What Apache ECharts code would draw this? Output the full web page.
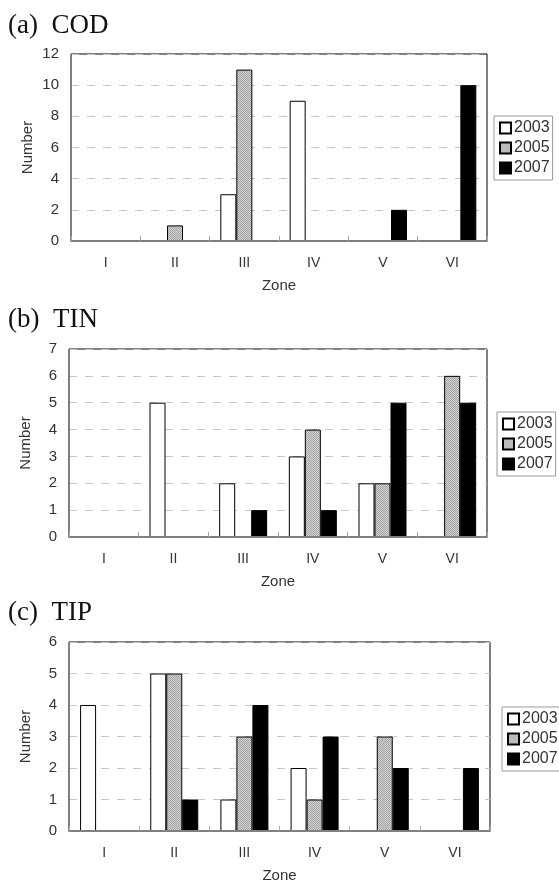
<!DOCTYPE html>
<html>
<head>
<meta charset="utf-8">
<script src="https://cdn.jsdelivr.net/npm/echarts@6/dist/echarts.min.js"></script>
<style>
  html, body { margin: 0; padding: 0; background: #fff; }
  #chart { width: 559px; height: 885px; }
</style>
</head>
<body>
<div id="chart"></div>
<script>
  // zones on the x axis
  const zones = ['I', 'II', 'III', 'IV', 'V', 'VI']
  const years = ['2003', '2005', '2007']

  // (a) COD
  const cod2003 = [0, 0, 3, 9, 0, 0]
  const cod2005 = [0, 1, 11, 0, 0, 0]
  const cod2007 = [0, 0, 0, 0, 2, 10]
  // (b) TIN
  const tin2003 = [0, 5, 2, 3, 2, 0]
  const tin2005 = [0, 0, 0, 4, 2, 6]
  const tin2007 = [0, 0, 1, 1, 5, 5]
  // (c) TIP
  const tip2003 = [4, 5, 1, 2, 0, 0]
  const tip2005 = [0, 5, 3, 1, 3, 0]
  const tip2007 = [0, 1, 4, 3, 2, 2]

  const panelTitles = ['(a)  COD', '(b)  TIN', '(c)  TIP']
  const yMax = [12, 7, 6]
  const yStep = [2, 1, 1]

  // stippled gray fill for 2005
  function stipple() {
    const c = document.createElement('canvas')
    c.width = 2
    c.height = 2
    const ctx = c.getContext('2d')
    ctx.fillStyle = '#d2d2d2'
    ctx.fillRect(0, 0, 2, 2)
    ctx.fillStyle = '#a4a4a4'
    ctx.fillRect(0, 0, 1, 1)
    ctx.fillRect(1, 1, 1, 1)
    return c
  }
  const fills = ['#ffffff', { image: stipple(), repeat: 'repeat' }, '#000000']

  const panels = [
    { data: [cod2003, cod2005, cod2007], grid: { left: 71, top: 54, right: 72, height: 187 }, titleTop: 7, legend: { left: 494, top: 116 } },
    { data: [tin2003, tin2005, tin2007], grid: { left: 69, top: 349, right: 72, height: 188 }, titleTop: 301, legend: { left: 497, top: 412 } },
    { data: [tip2003, tip2005, tip2007], grid: { left: 69, top: 642, right: 69, height: 189 }, titleTop: 594, legend: { left: 502, top: 707 } },
  ]

  const textColor = '#333'
  const sans = 'Liberation Sans'

  const option = {
    backgroundColor: '#fff',
    animation: false,
    title: [],
    legend: [],
    grid: [],
    xAxis: [],
    yAxis: [],
    series: [],
  }

  panels.forEach((p, i) => {
    option.title.push({
      text: panelTitles[i],
      left: 3,
      top: p.titleTop,
      textStyle: { fontFamily: 'Liberation Serif', fontSize: 27, fontWeight: 'normal', color: '#111' },
    })
    option.grid.push(Object.assign({ show: true, borderColor: '#000', borderWidth: 1, backgroundColor: 'transparent' }, p.grid))
    option.legend.push({
      orient: 'vertical',
      left: p.legend.left,
      top: p.legend.top,
      data: years,
      icon: 'rect',
      itemWidth: 11,
      itemHeight: 11,
      itemGap: 4,
      padding: [4, 3, 4, 5],
      borderColor: '#999',
      borderWidth: 1,
      selectedMode: false,
      textStyle: { fontFamily: sans, fontSize: 16, color: textColor, padding: [0, 0, 0, -2] },
    })
    option.xAxis.push({
      type: 'category',
      gridIndex: i,
      z: 5,
      data: zones,
      name: 'Zone',
      nameLocation: 'middle',
      nameGap: 37,
      nameTextStyle: { fontFamily: sans, fontSize: 15, color: textColor },
      axisLine: { lineStyle: { color: '#808080', width: 2 } },
      axisTick: { show: true, inside: true, length: 5, lineStyle: { color: '#aaa' } },
      axisLabel: { fontFamily: sans, fontSize: 14, color: textColor, margin: 15 },
    })
    option.yAxis.push({
      type: 'value',
      gridIndex: i,
      min: 0,
      max: yMax[i],
      interval: yStep[i],
      name: 'Number',
      nameLocation: 'middle',
      nameGap: 36,
      nameMoveOverlap: false,
      nameTextStyle: { fontFamily: sans, fontSize: 15, color: textColor },
      axisLine: { show: true, lineStyle: { color: '#808080' } },
      axisTick: { show: false },
      axisLabel: { fontFamily: sans, fontSize: 15, color: textColor, margin: 12 },
      splitLine: { lineStyle: { color: '#c8c8c8', type: [8, 8] } },
    })
    p.data.forEach((vals, k) => {
      option.series.push({
        type: 'bar',
        name: years[k],
        xAxisIndex: i,
        yAxisIndex: i,
        z: 1,
        data: vals,
        barWidth: 16,
        barGap: '0%',
        itemStyle: { color: fills[k], borderColor: '#000', borderWidth: 1 },
      })
    })
  })

  const chart = echarts.init(document.getElementById('chart'))
  chart.setOption(option)
</script>
</body>
</html>
